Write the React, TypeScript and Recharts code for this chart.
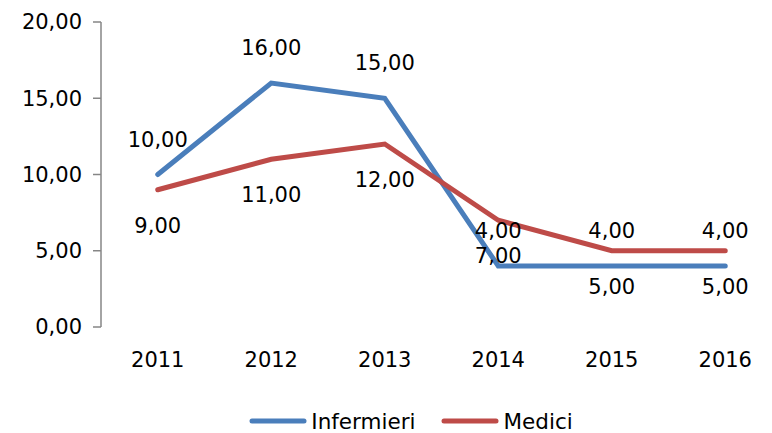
import { LineChart, Line, XAxis, YAxis, Legend, LabelList } from "recharts"

const years = ["2011", "2012", "2013", "2014", "2015", "2016"]
const infermieri = [10, 16, 15, 4, 4, 4]
const medici = [9, 11, 12, 7, 5, 5]
const yTicks = [0, 5, 10, 15, 20]

const BLUE = "#4a7ebb"
const RED = "#be4b48"
const AXIS = "#868686"
const FONT = "DejaVu Sans"
const FS = 21

const data = years.map((year, i) => ({
    pos: i + 0.5,
    year,
    infermieri: infermieri[i],
    medici: medici[i]
}))

const fmt = (v: number) => v.toFixed(2).replace(".", ",")

function makeLabel(dy: number) {
    return (props: any) => {
        const { x, y, value } = props
        return (
            <text
                x={x}
                y={y + dy}
                textAnchor="middle"
                dominantBaseline="central"
                fontFamily={FONT}
                fontSize={FS}
                fill="#000"
            >
                {fmt(value)}
            </text>
        )
    }
}

function LegendContent() {
    const items = [
        { name: "Infermieri", color: BLUE },
        { name: "Medici", color: RED }
    ]
    return (
        <div
            style={{
                display: "flex",
                justifyContent: "center",
                alignItems: "center",
                height: 30,
                paddingLeft: 40,
                fontFamily: FONT,
                fontSize: 21.5,
                color: "#000"
            }}
        >
            {items.map((it) => (
                <div
                    key={it.name}
                    style={{ display: "flex", alignItems: "center", margin: "0 13px" }}
                >
                    <svg width={58} height={10}>
                        <line
                            x1={3}
                            y1={5}
                            x2={55}
                            y2={5}
                            stroke={it.color}
                            strokeWidth={5}
                            strokeLinecap="round"
                        />
                    </svg>
                    <span style={{ marginLeft: 4 }}>{it.name}</span>
                </div>
            ))}
        </div>
    )
}

export default function App() {
    return (
        <div
            style={{
                position: "fixed",
                top: 0,
                left: 0,
                width: 772,
                height: 433,
                overflow: "hidden",
                background: "#fff",
                fontFamily: FONT
            }}
        >
            <LineChart
                width={790}
                height={433}
                data={data}
                margin={{ top: 22, right: 8, bottom: 0, left: 0 }}
                style={{ fontFamily: FONT }}
            >
                <XAxis
                    xAxisId="grid"
                    type="number"
                    domain={[0, 6]}
                    ticks={[0, 1, 2, 3, 4, 5, 6]}
                    allowDataOverflow
                    height={0}
                    tickSize={7}
                    tickFormatter={() => ""}
                    stroke={AXIS}
                    axisLine={{ stroke: AXIS, strokeWidth: 1.5 }}
                    tickLine={{ stroke: AXIS, strokeWidth: 1.5 }}
                />
                <XAxis
                    xAxisId="main"
                    dataKey="pos"
                    type="number"
                    domain={[0, 6]}
                    ticks={data.map((d) => d.pos)}
                    tickFormatter={(v: number) => years[Math.floor(v)]}
                    height={76}
                    axisLine={false}
                    tickLine={false}
                    tickSize={0}
                    tickMargin={25}
                    fontSize={FS}
                    fontFamily={FONT}
                    tick={{ fontFamily: FONT, fontSize: FS, fill: "#000" }}
                />
                <YAxis
                    domain={[0, 20]}
                    ticks={yTicks}
                    width={101}
                    tickFormatter={fmt}
                    tickSize={8}
                    tickMargin={11}
                    fontSize={FS}
                    fontFamily={FONT}
                    stroke={AXIS}
                    axisLine={{ stroke: AXIS, strokeWidth: 1.5 }}
                    tickLine={{ stroke: AXIS, strokeWidth: 1.5 }}
                    tick={{ fontFamily: FONT, fontSize: FS, fill: "#000" }}
                />
                <Legend
                    verticalAlign="bottom"
                    height={30}
                    content={() => <LegendContent />}
                    wrapperStyle={{ top: 406 }}
                />
                <Line
                    xAxisId="main"
                    dataKey="infermieri"
                    name="Infermieri"
                    stroke={BLUE}
                    strokeWidth={5}
                    strokeLinecap="round"
                    dot={false}
                    isAnimationActive={false}
                >
                    <LabelList dataKey="infermieri" content={makeLabel(-35)} />
                </Line>
                <Line
                    xAxisId="main"
                    dataKey="medici"
                    name="Medici"
                    stroke={RED}
                    strokeWidth={5}
                    strokeLinecap="round"
                    dot={false}
                    isAnimationActive={false}
                >
                    <LabelList dataKey="medici" content={makeLabel(36)} />
                </Line>
            </LineChart>
        </div>
    )
}
